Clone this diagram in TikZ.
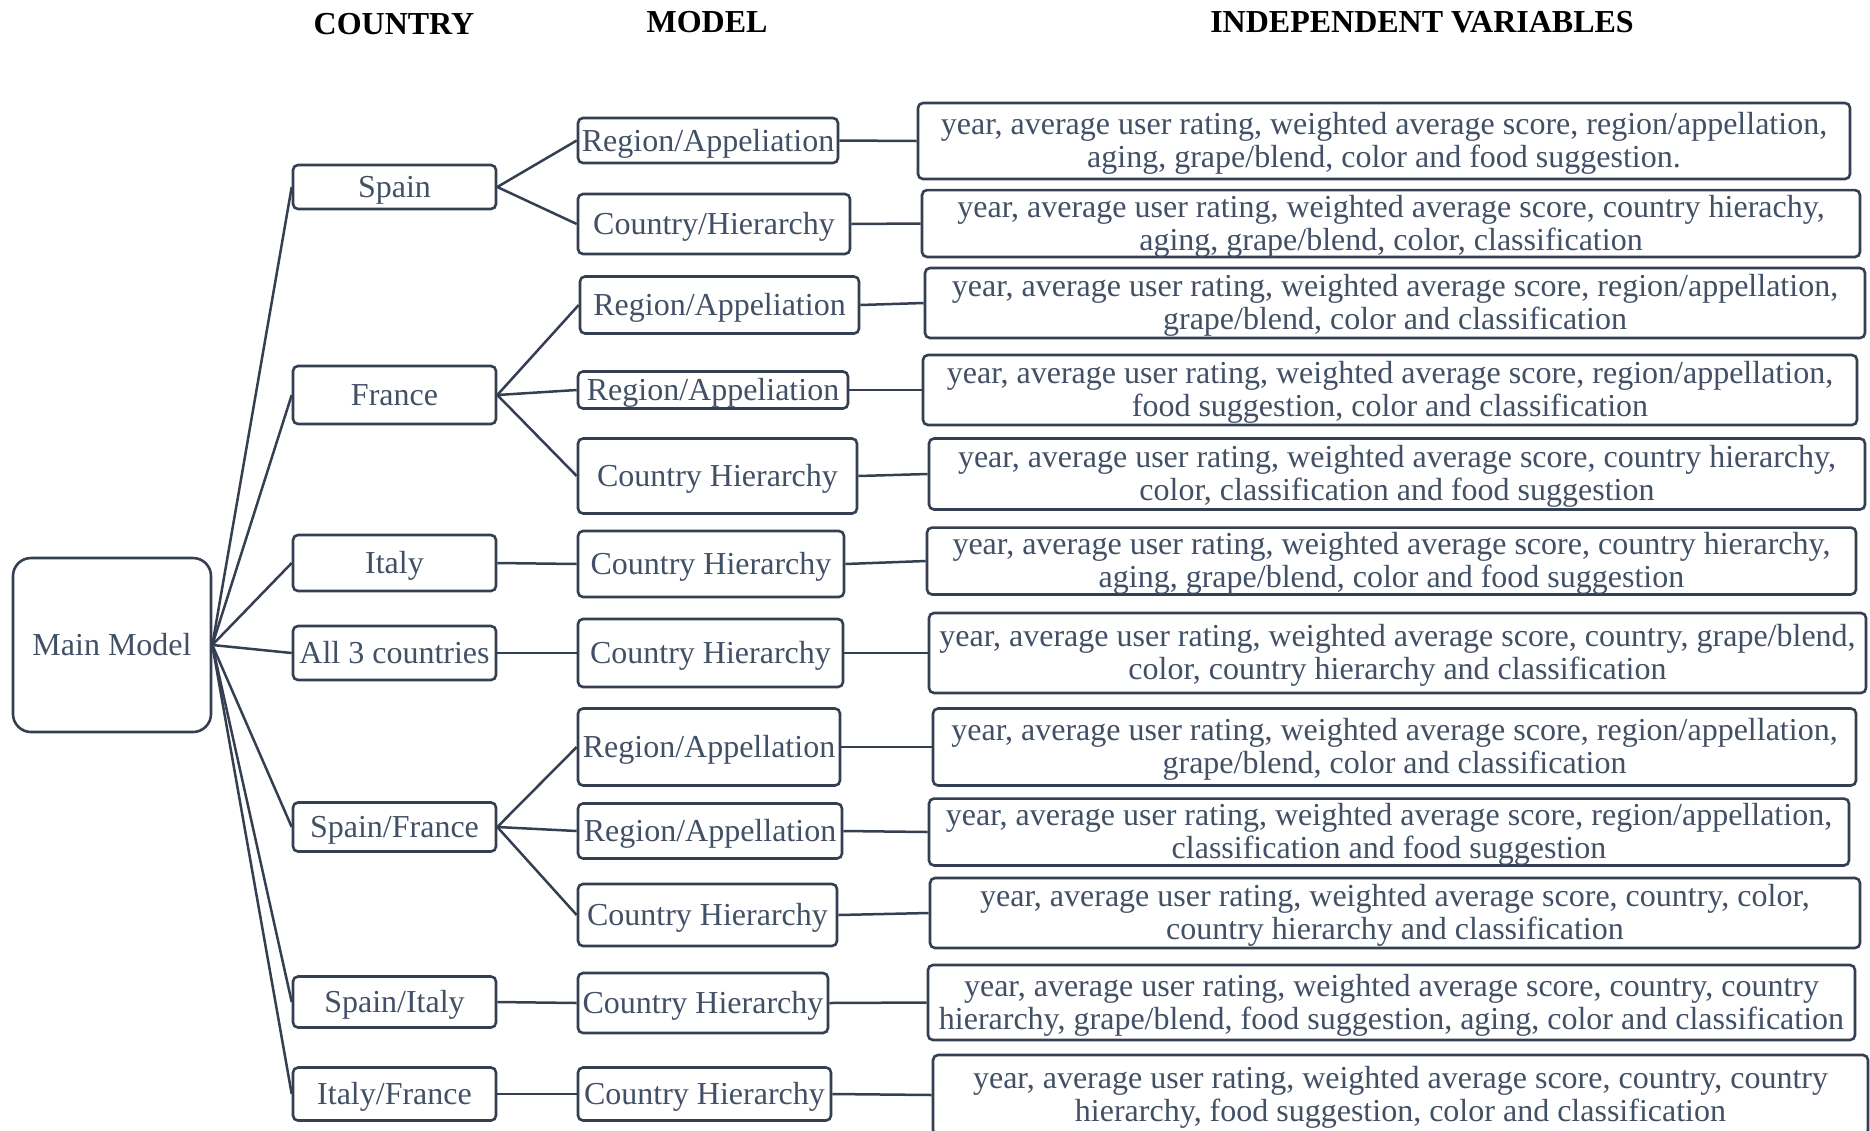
\documentclass[tikz,border=0pt]{standalone}
\usepackage{fontspec}
\setmainfont{Liberation Serif}
\definecolor{txt}{RGB}{66,80,102}
\definecolor{ln}{RGB}{52,64,82}
\newcommand{\up}{\rule{0pt}{27pt}}
\begin{document}
\begin{tikzpicture}[x=1pt,y=-1pt,
  base/.style={draw=ln, line width=2.6pt, text=txt, inner sep=0pt, align=center,
    font=\fontsize{32}{33}\selectfont, rounded corners=5pt},
  single/.style={base, text height=25pt, text depth=4pt},
  mainbox/.style={single, rounded corners=18pt},
  cbox/.style={single, minimum width=203pt},
  mbox/.style={single},
  vbox/.style={base},
  hdr/.style={font=\fontsize{32}{33}\selectfont\bfseries, text=black, inner sep=0pt},
  conn/.style={draw=ln, line width=2.5pt}]
\fill[white] (0,0) rectangle (1870,1130);
\useasboundingbox (0,0) rectangle (1870,1130);
% headers
\node[hdr] (h1) at (394,24) {COUNTRY};
\node[hdr] (h2) at (707,22) {MODEL};
\node[hdr] (h3) at (1422,22) {INDEPENDENT VARIABLES};
% main
\node[mainbox, minimum width=198pt, minimum height=174pt] (main) at (112,645) {Main Model};
% countries
\node[cbox, minimum height=44pt] (spain) at (394.5,187) {Spain};
\node[cbox, minimum height=58pt] (france) at (394.5,395) {France};
\node[cbox, minimum height=56pt] (italy) at (394.5,563) {Italy};
\node[cbox, minimum height=54pt] (all) at (394.5,653) {All 3 countries};
\node[cbox, minimum height=49pt] (sf) at (394.5,827) {Spain/France};
\node[cbox, minimum height=51pt] (si) at (394.5,1002) {Spain/Italy};
\node[cbox, minimum height=53pt] (itf) at (394.5,1094) {Italy/France};
% models
\node[mbox, minimum width=260pt, minimum height=45pt] (m1) at (708,140.5) {Region/Appeliation};
\node[mbox, minimum width=272pt, minimum height=60pt] (m2) at (714,224) {Country/Hierarchy};
\node[mbox, minimum width=279pt, minimum height=57pt] (m3) at (719.5,305) {Region/Appeliation};
\node[mbox, minimum width=270pt, minimum height=37pt] (m4) at (713,390) {Region/Appeliation};
\node[mbox, minimum width=279pt, minimum height=75pt] (m5) at (717.5,476) {Country Hierarchy};
\node[mbox, minimum width=266pt, minimum height=66pt] (m6) at (711,564) {Country Hierarchy};
\node[mbox, minimum width=265pt, minimum height=68pt] (m7) at (710.5,653) {Country Hierarchy};
\node[mbox, minimum width=262pt, minimum height=77pt] (m8) at (709,747) {Region/Appellation};
\node[mbox, minimum width=264pt, minimum height=55pt] (m9) at (710,831) {Region/Appellation};
\node[mbox, minimum width=259pt, minimum height=62pt] (m10) at (707.5,915) {Country Hierarchy};
\node[mbox, minimum width=250pt, minimum height=60pt] (m11) at (703,1003) {Country Hierarchy};
\node[mbox, minimum width=253pt, minimum height=53pt] (m12) at (704.5,1094) {Country Hierarchy};
% variables
\node[vbox, minimum width=932pt, minimum height=76pt] (v1) at (1384,141) {\up year, average user rating, weighted average score, region/appellation,\\aging, grape/blend, color and food suggestion.};
\node[vbox, minimum width=938pt, minimum height=61pt] (v2) at (1391,223.5) {\up year, average user rating, weighted average score, country hierachy,\\aging, grape/blend, color, classification};
\node[vbox, minimum width=940pt, minimum height=70pt] (v3) at (1395,303) {\up year, average user rating, weighted average score, region/appellation,\\grape/blend, color and classification};
\node[vbox, minimum width=934pt, minimum height=70pt] (v4) at (1390,390) {\up year, average user rating, weighted average score, region/appellation,\\food suggestion, color and classification};
\node[vbox, minimum width=936pt, minimum height=71pt] (v5) at (1397,474) {\up year, average user rating, weighted average score, country hierarchy,\\color, classification and food suggestion};
\node[vbox, minimum width=929pt, minimum height=66pt] (v6) at (1391.5,561) {\up year, average user rating, weighted average score, country hierarchy,\\aging, grape/blend, color and food suggestion};
\node[vbox, minimum width=937pt, minimum height=80pt] (v7) at (1397.5,653) {\up year, average user rating, weighted average score, country, grape/blend,\\color, country hierarchy and classification};
\node[vbox, minimum width=923pt, minimum height=77pt] (v8) at (1394.5,747) {\up year, average user rating, weighted average score, region/appellation,\\grape/blend, color and classification};
\node[vbox, minimum width=920pt, minimum height=62pt] (v9) at (1389,832) {\up year, average user rating, weighted average score, region/appellation,\\classification and food suggestion};
\node[vbox, minimum width=930pt, minimum height=70pt] (v10) at (1395,913) {\up year, average user rating, weighted average score, country, color,\\country hierarchy and classification};
\node[vbox, minimum width=927pt, minimum height=75pt] (v11) at (1391.5,1002.5) {\up year, average user rating, weighted average score, country, country\\hierarchy, grape/blend, food suggestion, aging, color and classification};
\node[vbox, minimum width=935pt, minimum height=80pt] (v12) at (1400.5,1095) {\up year, average user rating, weighted average score, country, country\\hierarchy, food suggestion, color and classification};
% connectors main -> countries
\foreach \c in {spain,france,italy,all,sf,si,itf}
  \draw[conn] (main.east) -- (\c.west);
% countries -> models
\draw[conn] (spain.east) -- (m1.west);
\draw[conn] (spain.east) -- (m2.west);
\draw[conn] (france.east) -- (m3.west);
\draw[conn] (france.east) -- (m4.west);
\draw[conn] (france.east) -- (m5.west);
\draw[conn] (italy.east) -- (m6.west);
\draw[conn] (all.east) -- (m7.west);
\draw[conn] (sf.east) -- (m8.west);
\draw[conn] (sf.east) -- (m9.west);
\draw[conn] (sf.east) -- (m10.west);
\draw[conn] (si.east) -- (m11.west);
\draw[conn] (itf.east) -- (m12.west);
% models -> variables
\foreach \i in {1,...,12}
  \draw[conn] (m\i.east) -- (v\i.west);
\end{tikzpicture}
\end{document}
